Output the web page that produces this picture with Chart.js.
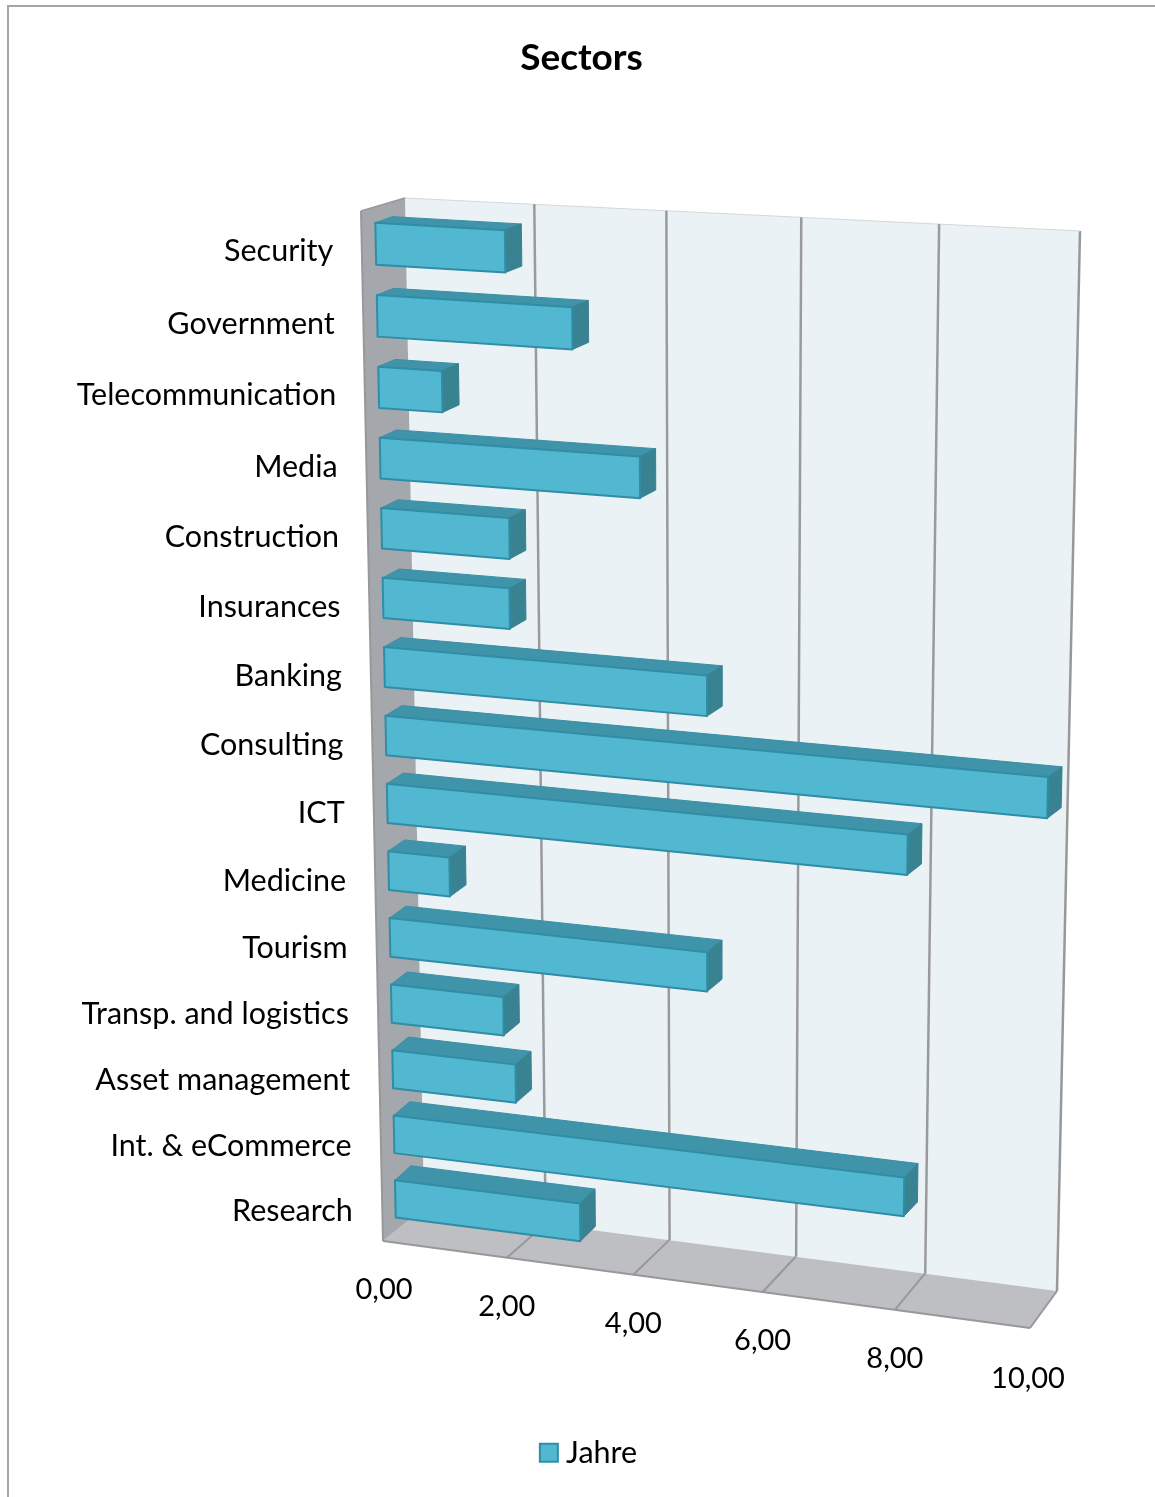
<!DOCTYPE html>
<html><head><meta charset="utf-8">
<style>html,body{margin:0;padding:0;background:#fff}#w{position:relative;width:1155px;height:1497px}</style>
<script src="https://cdn.jsdelivr.net/npm/chart.js@4"></script>
</head><body><div id="w"><canvas id="c" width="1155" height="1497"></canvas></div>
<script>
const categories = ['Security','Government','Telecommunication','Media','Construction','Insurances','Banking','Consulting','ICT','Medicine','Tourism','Transp. and logistics','Asset management','Int. & eCommerce','Research'];
const seriesName = 'Jahre';
const seriesValues = [1.97,2.97,0.98,3.97,1.98,1.97,4.97,10,7.97,0.97,4.97,1.79,1.97,7.98,2.97];
const axisMin = 0, axisMax = 10, axisStep = 2;
const chartTitle = 'Sectors';

// Perspective quads: [top-left, top-right, bottom-right, bottom-left]
const WALL  = [[405,198],[1080,231],[1057,1291],[424,1208]];
const FLOOR = [[424,1208],[1057,1291],[1030,1328],[383,1241]];
const SIDE  = [[361,211],[405,198],[424,1208],[383,1241]];
const BAR_FRONT = [[375,207.5],[1059,246],[1037,1314],[396,1231]];
const BAR_BACK  = [[392,201.5],[1074,239.5],[1050,1299],[412,1216]];

function homography(q){
  const [[x0,y0],[x1,y1],[x2,y2],[x3,y3]] = q;
  const dx1=x1-x2,dx2=x3-x2,sx=x0-x1+x2-x3,dy1=y1-y2,dy2=y3-y2,sy=y0-y1+y2-y3;
  const det=dx1*dy2-dx2*dy1;
  const g=(sx*dy2-dx2*sy)/det,h=(dx1*sy-sx*dy1)/det;
  const a=x1-x0+g*x1,b=x3-x0+h*x3,d=y1-y0+g*y1,e=y3-y0+h*y3;
  return (u,v)=>{const w=g*u+h*v+1;return [(a*u+b*v+x0)/w,(d*u+e*v+y0)/w];};
}
const pWall=homography(WALL),pFloor=homography(FLOOR),pFront=homography(BAR_FRONT),pBack=homography(BAR_BACK);

function poly(ctx,pts,fill,stroke,lw){
  ctx.beginPath();pts.forEach((p,i)=>i?ctx.lineTo(p[0],p[1]):ctx.moveTo(p[0],p[1]));ctx.closePath();
  if(fill){ctx.fillStyle=fill;ctx.fill();}
  if(stroke){ctx.strokeStyle=stroke;ctx.lineWidth=lw||1;ctx.lineJoin='round';ctx.stroke();}
}
function seg(ctx,a,b,color,lw){ctx.beginPath();ctx.moveTo(a[0],a[1]);ctx.lineTo(b[0],b[1]);ctx.strokeStyle=color;ctx.lineWidth=lw;ctx.stroke();}

// Bars keep Chart.js geometry; each element projects its own flat rectangle to a 3D box.
Chart.BarElement.prototype.draw=function(ctx){
  const area=Chart.getChart('c').chartArea;
  const {x,y,base,height}=this.getProps(['x','y','base','height']);
  const U=p=>(p-area.left)/(area.right-area.left),V=p=>(p-area.top)/(area.bottom-area.top);
  const u0=U(base),u1=U(x),v0=V(y-height/2),v1=V(y+height/2);
  const f=[pFront(u0,v0),pFront(u1,v0),pFront(u1,v1),pFront(u0,v1)];
  const b=[pBack(u0,v0),pBack(u1,v0),pBack(u1,v1),pBack(u0,v1)];
  ctx.save();
  poly(ctx,[f[0],b[0],b[1],f[1]],'#4094A9','#3C8FA5',1);
  poly(ctx,[f[1],b[1],b[2],f[2]],'#388292','#388292',1);
  poly(ctx,f,this.options.backgroundColor,this.options.borderColor,2);
  ctx.restore();
};

const stage3d={
  id:'stage3d',
  beforeDraw(chart){
    const ctx=chart.ctx,xs=chart.scales.x,ys=chart.scales.y,area=chart.chartArea;
    ctx.save();
    ctx.fillStyle='#fff';ctx.fillRect(0,0,chart.width,chart.height);
    // outer frame
    ctx.strokeStyle='#A6A6A6';ctx.lineWidth=2;ctx.beginPath();ctx.moveTo(8,1497);ctx.lineTo(8,6);ctx.lineTo(1155,6);ctx.stroke();
    // walls
    poly(ctx,WALL,'#EAF2F6');
    poly(ctx,FLOOR,'#BDBFC3');
    poly(ctx,SIDE,'#A4A7AB');
    seg(ctx,SIDE[0],SIDE[3],'#98989A',2);
    seg(ctx,SIDE[0],SIDE[1],'#98989A',1.5);
    seg(ctx,FLOOR[3],FLOOR[2],'#98989A',2);
    seg(ctx,FLOOR[2],FLOOR[1],'#98989A',2);
    seg(ctx,WALL[1],WALL[2],'#98989A',2.5);
    seg(ctx,WALL[0],WALL[1],'#D5D8DA',1);
    // value grid lines, taken from the value scale's ticks
    xs.ticks.forEach(t=>{
      const u=(xs.getPixelForValue(t.value)-area.left)/(area.right-area.left);
      if(u>0.001&&u<0.999){
        seg(ctx,pWall(u,0),pWall(u,1),'#9A9A9C',2.5);
        seg(ctx,pFloor(u,0),pFloor(u,1),'#98989A',2);
      }
    });
    ctx.restore();
    // tick labels follow the projected axes
    const yItems=ys._computeLabelItems(area);
    yItems.forEach(it=>{
      const v=(it.options.translation[1]-area.top)/(area.bottom-area.top);
      const p=pFront(0,v);
      it.options.translation=[p[0]-42.5,p[1]+7.5+4.5*v];
      it.options.textAlign='right';it.options.textBaseline='middle';it.textOffset=0;
    });
    ys._labelItems=yItems;ys._computeLabelArea=()=>undefined;
    const xItems=xs._computeLabelItems(area);
    xItems.forEach(it=>{
      const u=(it.options.translation[0]-area.left)/(area.right-area.left);
      const p=pFloor(u,1);
      it.options.translation=[p[0]+(u<0.01?1:0)-(u>0.99?2:0),p[1]+49+(u>0.99?2:0)];
      it.options.textAlign='center';it.options.textBaseline='middle';it.textOffset=0;
    });
    xs._labelItems=xItems;xs._computeLabelArea=()=>undefined;
  },
  afterLayout(chart){
    if(chart.legend){chart.legend.left+=10.5;chart.legend.right+=10.5;}
  }
};

const FONT='Lato';
new Chart(document.getElementById('c'),{
  type:'bar',
  data:{labels:categories,datasets:[{label:seriesName,data:seriesValues,backgroundColor:'#52B7D0',borderColor:'#2F8DA5',borderWidth:2,categoryPercentage:1,barPercentage:0.58}]},
  options:{
    indexAxis:'y',responsive:false,animation:false,devicePixelRatio:1,
    layout:{padding:{left:8,top:6,right:0,bottom:19}},
    plugins:{
      title:{display:true,text:chartTitle,color:'#000',font:{family:FONT,size:37,weight:'bold'},padding:{top:30,bottom:40}},
      legend:{display:true,position:'bottom',labels:{color:'#000',font:{family:FONT,size:30.5},usePointStyle:true,pointStyle:'rect',boxWidth:4,boxHeight:18,padding:26},onClick:null},
      tooltip:{enabled:false}
    },
    scales:{
      x:{type:'linear',min:axisMin,max:axisMax,ticks:{stepSize:axisStep,color:'#000',font:{family:FONT,size:29},maxRotation:0,autoSkip:false,callback:v=>v.toFixed(2).replace('.',',')},grid:{display:false},border:{display:false}},
      y:{type:'category',ticks:{color:'#000',font:{family:FONT,size:30.5},autoSkip:false},grid:{display:false},border:{display:false}}
    }
  },
  plugins:[stage3d]
});
</script></body></html>
